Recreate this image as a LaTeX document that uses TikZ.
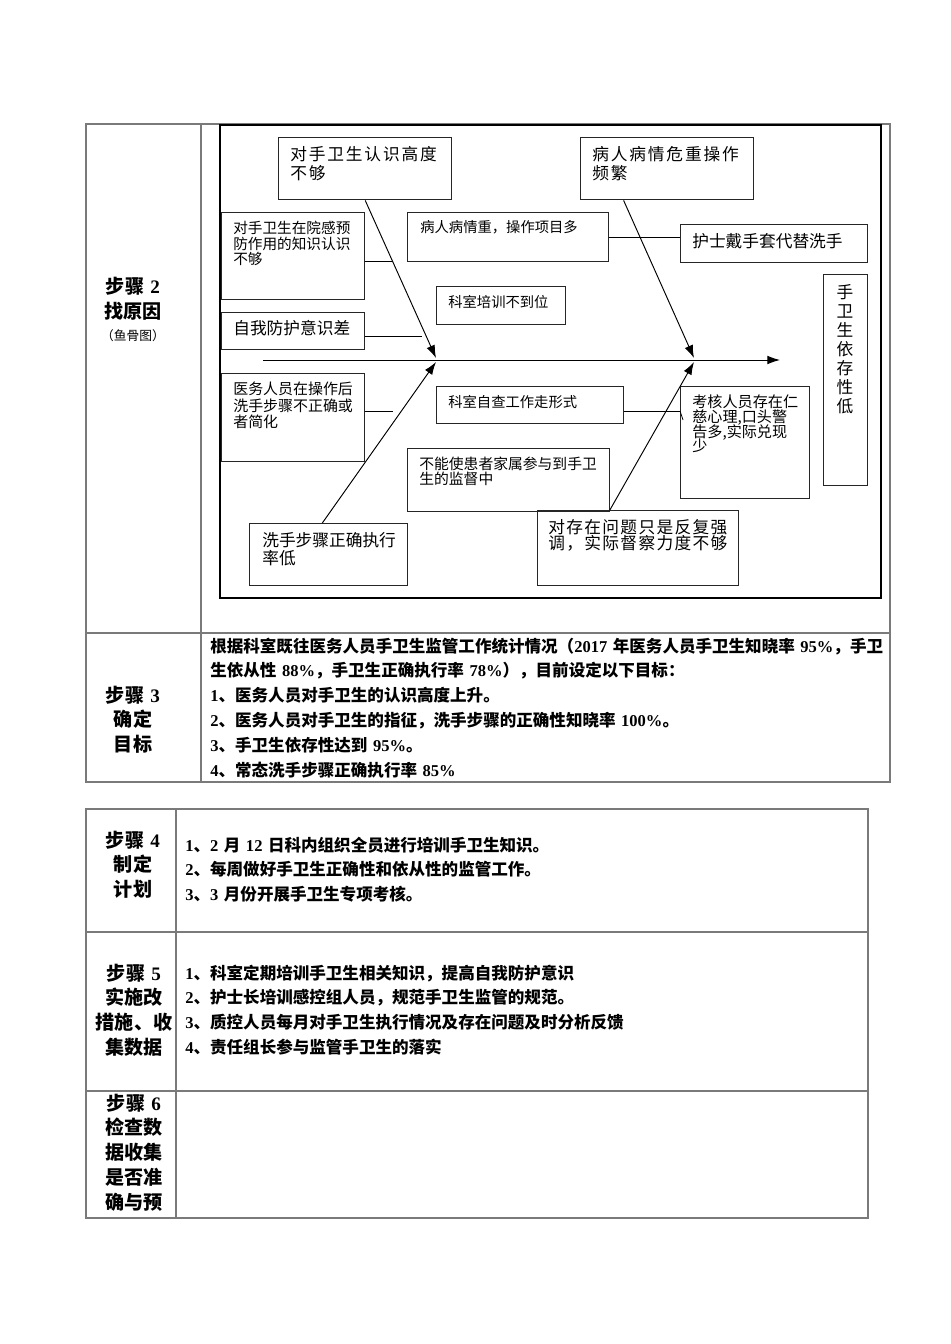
\documentclass[tikz,border=0pt]{standalone}
\usepackage{fontspec}
\usepackage{xcolor}
\setmainfont{Noto Sans CJK SC}
\newfontfamily\tnr{Liberation Serif}
\usetikzlibrary{arrows.meta,calc}

\definecolor{lineGray}{HTML}{7a7a7a}
\newcommand{\pxl}{0.0221cm}
\newcommand{\tn}[1]{{\tnr #1}}
\newcommand{\fs}[2]{\fontsize{#1}{#2}\selectfont\lineskiplimit=-20pt}

\tikzset{
    cbox/.style 2 args={
        draw=black!85,
        line width=0.9pt,
        anchor=north west,
        inner sep=0pt,
        minimum width=#1*\pxl,
        minimum height=#2*\pxl
    },
    ctxt/.style={
        anchor=base west,
        inner sep=0pt,
        text width=6cm,
        align=left
    },
    arr/.style={
        -{Latex[length=8pt,width=5.5pt]},
        line width=0.6pt
    },
    bone/.style={line width=0.6pt},
    tabline/.style={draw=lineGray, line width=0.7pt},
    cell/.style={
        anchor=base west,
        inner sep=0pt,
        text width=16cm,
        align=left,
        font=\bfseries\fs{10.4pt}{15.7pt}
    },
    steplbl/.style={
        anchor=base,
        inner sep=0pt,
        text width=3cm,
        align=center,
        font=\bfseries\fs{12pt}{15.7pt}
    }
}

\begin{document}
\begin{tikzpicture}[x=0.0221cm, y=-0.0221cm]

        % Página
        \fill[white] (0,0) rectangle (950,1344);
        \useasboundingbox (0,0) rectangle (950,1344);

        % =====================================================
        % TABLA 1
        % =====================================================
        \draw[tabline] (86,124) rectangle (890,782);
        \draw[tabline] (201,124) -- (201,782);
        \draw[tabline] (86,633) -- (890,633);

        % Paso 2
        \node[steplbl] (paso2) at (133,294) {步骤 \tn{2}\\找原因};
        \node[anchor=base, inner sep=0pt, font=\fs{8pt}{10pt}] (yugu) at (133,341) {（鱼骨图）};

        % Marco del diagrama
        \draw[line width=0.9pt] (220,125) rectangle (881,598);

        % Espina
        \coordinate (cola) at (263,360);
        \coordinate (cabeza) at (780,360);
        \coordinate (j1) at (436,360);
        \coordinate (j2) at (694,360);
        \draw[arr] (cola) -- (cabeza);

        % Causas de arriba
        \node[cbox={173}{62}] (gaodu) at (278,137) {};
        \node[ctxt, font=\fs{10.5pt}{12pt}\addfontfeature{LetterSpace=11}] (tgaodu)
            at ([shift={(12,23.3)}]gaodu.north west) {对手卫生认识高度\\不够};

        \node[cbox={173}{62}] (weizhong) at (580,137) {};
        \node[ctxt, font=\fs{10.5pt}{12pt}\addfontfeature{LetterSpace=11}] (tweizhong)
            at ([shift={(12,23.3)}]weizhong.north west) {病人病情危重操作\\频繁};

        \node[cbox={143}{87}] (yuangan) at (221,212) {};
        \node[ctxt, font=\fs{9.2pt}{9.75pt}] (tyuangan)
            at ([shift={(12,21.5)}]yuangan.north west) {对手卫生在院感预\\防作用的知识认识\\不够};

        \node[cbox={201}{49}] (xiangmu) at (407,212) {};
        \node[ctxt, font=\fs{9pt}{11pt}] (txiangmu)
            at ([shift={(13,20.4)}]xiangmu.north west) {病人病情重，操作项目多};

        \node[cbox={187}{38}] (hushi) at (680,224) {};
        \node[ctxt, font=\fs{10.5pt}{12pt}] (thushi)
            at ([shift={(12,23.3)}]hushi.north west) {护士戴手套代替洗手};

        \node[cbox={129}{38}] (peixun) at (436,286) {};
        \node[ctxt, font=\fs{9pt}{11pt}] (tpeixun)
            at ([shift={(12,21.4)}]peixun.north west) {科室培训不到位};

        \node[cbox={143}{37}] (fanghu) at (221,312) {};
        \node[ctxt, font=\fs{10.5pt}{12pt}] (tfanghu)
            at ([shift={(12,22.3)}]fanghu.north west) {自我防护意识差};

        % Resultado
        \node[cbox={44}{211}] (yicun) at (823,274) {};
        \node[ctxt, anchor=base, text width=1cm, align=center, font=\fs{10.5pt}{12pt}] (tyicun)
            at ([shift={(22,24.3)}]yicun.north west) {手\\卫\\生\\依\\存\\性\\低};

        % Causas de abajo
        \node[cbox={143}{88}] (buzhou) at (221,373) {};
        \node[ctxt, font=\fs{9.4pt}{10.4pt}] (tbuzhou)
            at ([shift={(12,21.7)}]buzhou.north west) {医务人员在操作后\\洗手步骤不正确或\\者简化};

        \node[cbox={187}{37}] (zicha) at (436,386) {};
        \node[ctxt, font=\fs{9pt}{11pt}] (tzicha)
            at ([shift={(12,21.4)}]zicha.north west) {科室自查工作走形式};

        \node[cbox={129}{112}] (kaohe) at (680,386) {};
        \node[ctxt, font=\fs{9.5pt}{9.25pt}] (tkaohe)
            at ([shift={(12,21.8)}]kaohe.north west) {考核人员存在仁\\慈心理,口头警\\告多,实际兑现\\少};

        \node[cbox={202}{63}] (jiashu) at (407,448) {};
        \node[ctxt, font=\fs{9.3pt}{9.45pt}] (tjiashu)
            at ([shift={(12,21.6)}]jiashu.north west) {不能使患者家属参与到手卫\\生的监督中};

        \node[cbox={158}{62}] (zhixing) at (249,523) {};
        \node[ctxt, font=\fs{10.5pt}{11.3pt}] (tzhixing)
            at ([shift={(13,23.3)}]zhixing.north west) {洗手步骤正确执行\\率低};

        \node[cbox={201}{75}] (duchai) at (537,510) {};
        \node[ctxt, font=\fs{10.5pt}{10pt}\addfontfeature{LetterSpace=8}] (tduchai)
            at ([shift={(11,23.3)}]duchai.north west) {对存在问题只是反复强\\调，实际督察力度不够};

        % Flechas hacia la espina
        \draw[arr] (gaodu.south) -- ([shift={(0,-2)}]j1);
        \draw[arr] ($(weizhong.south west)!0.25!(weizhong.south east)$) -- ([shift={(0,-2)}]j2);
        \draw[arr] ($(zhixing.north west)!0.46!(zhixing.north east)$) -- ([shift={(0,2)}]j1);
        \draw[arr] ($(duchai.north west)!0.36!(duchai.north east)$) -- ([shift={(0,2)}]j2);

        % Ramas
        \coordinate (r1) at (392,261);
        \coordinate (r2) at (422,336);
        \coordinate (r3) at (393,411);
        \coordinate (r4) at (650,411);
        \draw[bone] (yuangan.east |- r1) -- (r1);
        \draw[bone] (fanghu.east |- r2) -- (r2);
        \draw[bone] (buzhou.east |- r3) -- (r3);
        \draw[bone] (xiangmu.east) -- (xiangmu.east -| hushi.west);
        \draw[bone] (zicha.east |- r4) -- (kaohe.west |- r4);
        \coordinate (r4e) at (kaohe.west |- r4);
        \draw[line width=0.5pt] (r4e) -- ++(3,9);

        % Paso 3
        \node[steplbl] (paso3) at (133,702) {步骤 \tn{3}\\确定\\目标};
        \node[cell] (metas) at (210,652) {根据科室既往医务人员手卫生监管工作统计情况（\tn{2017} 年医务人员手卫生知晓率 \tn{95\%}，手卫\\生依从性 \tn{88\%}，手卫生正确执行率 \tn{78\%}），目前设定以下目标：\\\tn{1}、医务人员对手卫生的认识高度上升。\\\tn{2}、医务人员对手卫生的指征，洗手步骤的正确性知晓率 \tn{100\%}。\\\tn{3}、手卫生依存性达到 \tn{95\%}。\\\tn{4}、常态洗手步骤正确执行率 \tn{85\%}};

        % =====================================================
        % TABLA 2
        % =====================================================
        \draw[tabline] (86,809) rectangle (868,1218);
        \draw[tabline] (176,809) -- (176,1218);
        \draw[tabline] (86,932) -- (868,932);
        \draw[tabline] (86,1091) -- (868,1091);

        % Paso 4
        \node[steplbl] (paso4) at (133,847) {步骤 \tn{4}\\制定\\计划};
        \node[cell] (plan) at (185,851) {\tn{1}、\tn{2} 月 \tn{12} 日科内组织全员进行培训手卫生知识。\\\tn{2}、每周做好手卫生正确性和依从性的监管工作。\\\tn{3}、\tn{3} 月份开展手卫生专项考核。};

        % Paso 5
        \node[steplbl] (paso5) at (134,980) {步骤 \tn{5}\\实施改\\措施、收\\集数据};
        \node[cell] (medidas) at (185,979) {\tn{1}、科室定期培训手卫生相关知识，提高自我防护意识\\\tn{2}、护士长培训感控组人员，规范手卫生监管的规范。\\\tn{3}、质控人员每月对手卫生执行情况及存在问题及时分析反馈\\\tn{4}、责任组长参与监管手卫生的落实};

        % Paso 6
        \node[steplbl] (paso6) at (134,1110) {步骤 \tn{6}\\检查数\\据收集\\是否准\\确与预};

\end{tikzpicture}
\end{document}
